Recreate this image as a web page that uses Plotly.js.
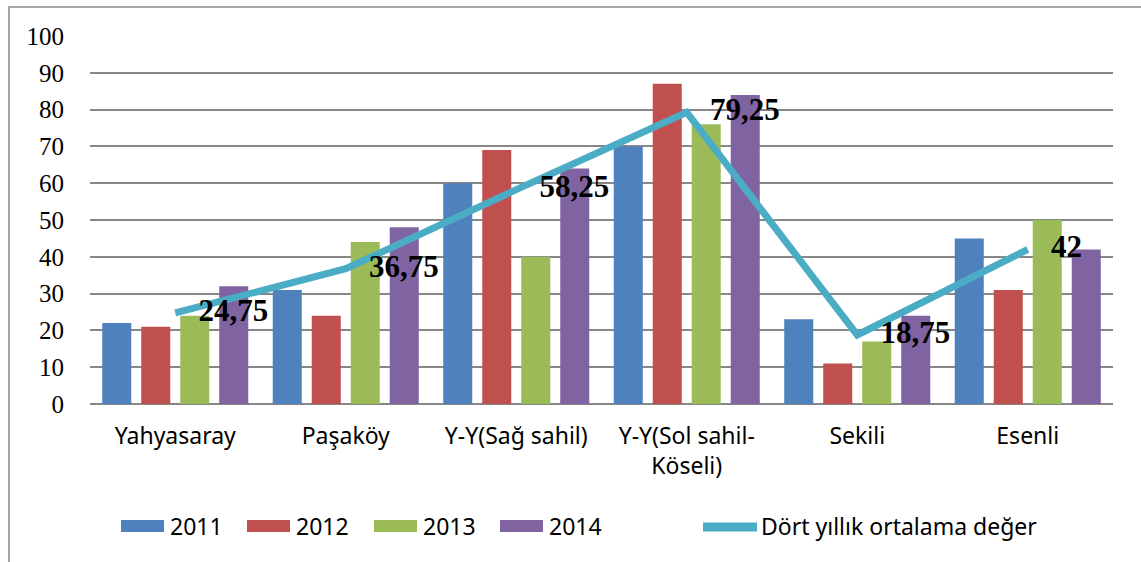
<!DOCTYPE html>
<html>
<head>
<meta charset="utf-8">
<script src="https://cdn.plot.ly/plotly-3.0.1.min.js"></script>
<style>
html,body{margin:0;padding:0;background:#fff;overflow:hidden;}
#frame{position:absolute;left:8px;top:6px;width:1200px;height:600px;border-left:2px solid #a6a6a6;border-top:2px solid #a6a6a6;}
#chart{position:absolute;left:0;top:0;width:1141px;height:562px;}
</style>
</head>
<body>
<div id="frame"></div>
<div id="chart"></div>
<script>
var categories = ['Yahyasaray', 'Paşaköy', 'Y-Y(Sağ sahil)', 'Y-Y(Sol sahil-<br>Köseli)', 'Sekili', 'Esenli'];
var seriesNames = ['2011', '2012', '2013', '2014'];
var values2011 = [22, 31, 60, 70, 23, 45];
var values2012 = [21, 24, 69, 87, 11, 31];
var values2013 = [24, 44, 40, 76, 17, 50];
var values2014 = [32, 48, 64, 84, 24, 42];
var averageName = 'Dört yıllık ortalama değer';
var averageValues = [24.75, 36.75, 58.25, 79.25, 18.75, 42];
var yTicks = [0, 10, 20, 30, 40, 50, 60, 70, 80, 90, 100];

var colors = ['#4F81BD', '#C0504D', '#9BBB59', '#8064A2'];
var lineColor = '#4BACC6';
var seriesValues = [values2011, values2012, values2013, values2014];

var traces = seriesValues.map(function (v, i) {
  return {
    type: 'bar', x: categories, y: v, name: seriesNames[i],
    marker: {color: colors[i]}, showlegend: false, hoverinfo: 'skip'
  };
});
traces.push({
  type: 'scatter', mode: 'lines+text', x: categories, y: averageValues,
  name: averageName, showlegend: false, hoverinfo: 'skip',
  line: {color: lineColor, width: 7},
  text: averageValues.map(function (v) { return '   ' + String(v).replace('.', ','); }),
  textposition: 'middle right',
  textfont: {family: 'Liberation Serif, Times New Roman, serif', size: 31, color: '#000', weight: 'bold'},
  cliponaxis: false
});

// Custom legend (paper coordinates)
var L = 90, R = 1113, T = 36, B = 404;
function px(x) { return (x - L) / (R - L); }
function py(y) { return (B - y) / (B - T); }
var shapes = [], annotations = [];
var legendStarts = [121, 247, 374, 500];
seriesNames.forEach(function (n, i) {
  var x0 = legendStarts[i];
  shapes.push({type: 'rect', xref: 'paper', yref: 'paper', x0: px(x0), x1: px(x0 + 43), y0: py(532), y1: py(520), fillcolor: colors[i], line: {width: 0}});
  annotations.push({xref: 'paper', yref: 'paper', x: px(x0 + 47), y: py(526), xanchor: 'left', yanchor: 'middle', showarrow: false, text: n, font: {family: 'Noto Sans, sans-serif', size: 23, color: '#000'}});
});
shapes.push({type: 'line', xref: 'paper', yref: 'paper', x0: px(703), x1: px(757), y0: py(527), y1: py(527), line: {color: lineColor, width: 9}});
annotations.push({xref: 'paper', yref: 'paper', x: px(759), y: py(526), xanchor: 'left', yanchor: 'middle', showarrow: false, text: averageName, font: {family: 'Noto Sans, sans-serif', size: 23, color: '#000'}});

var layout = {
  width: 1141, height: 562,
  margin: {l: L, r: 1141 - R, t: T, b: 562 - B},
  paper_bgcolor: 'rgba(0,0,0,0)', plot_bgcolor: 'rgba(0,0,0,0)',
  barmode: 'group', bargap: 0.085, bargroupgap: 0.256,
  showlegend: false,
  xaxis: {
    type: 'category', showgrid: false, zeroline: false, showline: false,
    ticks: 'outside', ticklen: 11, tickcolor: 'rgba(0,0,0,0)',
    tickfont: {family: 'Noto Sans, sans-serif', size: 23, color: '#000'},
    fixedrange: true
  },
  yaxis: {
    range: [0, 100], tickvals: yTicks, ticktext: yTicks.map(String),
    showgrid: true, gridcolor: '#878787', gridwidth: 2,
    zeroline: true, zerolinecolor: '#878787', zerolinewidth: 2,
    showline: false,
    ticks: 'outside', ticklen: 20, tickcolor: 'rgba(0,0,0,0)',
    tickfont: {family: 'Liberation Serif, Times New Roman, serif', size: 25, color: '#000'},
    fixedrange: true
  },
  shapes: shapes, annotations: annotations
};
Plotly.newPlot('chart', traces, layout, {displayModeBar: false, staticPlot: true});
</script>
</body>
</html>
